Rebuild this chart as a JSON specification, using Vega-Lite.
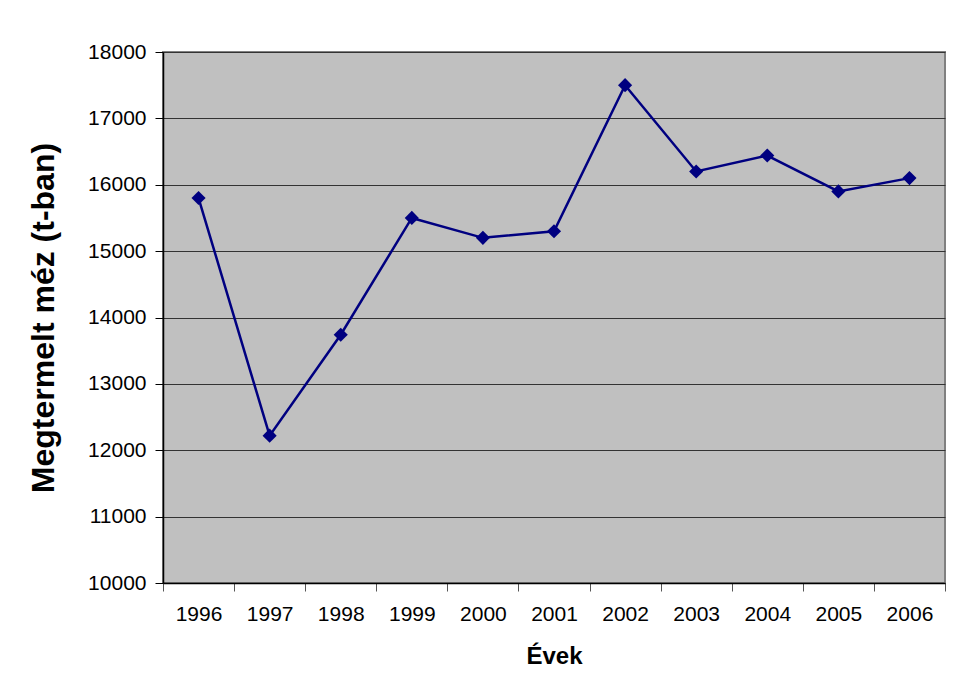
{
  "$schema": "https://vega.github.io/schema/vega-lite/v6.json",
  "autosize": {"type": "none"},
  "padding": {"left": 163, "top": 52, "right": 10, "bottom": 115},
  "width": 782,
  "height": 531,
  "background": "white",
  "config": {
    "font": "Liberation Sans",
    "view": {"fill": "#C0C0C0", "stroke": "#808080", "strokeWidth": 2}
  },
  "data": {
    "values": [
      {"ev": "1996", "mez": 15800},
      {"ev": "1997", "mez": 12220},
      {"ev": "1998", "mez": 13740},
      {"ev": "1999", "mez": 15500},
      {"ev": "2000", "mez": 15200},
      {"ev": "2001", "mez": 15300},
      {"ev": "2002", "mez": 17500},
      {"ev": "2003", "mez": 16200},
      {"ev": "2004", "mez": 16440},
      {"ev": "2005", "mez": 15900},
      {"ev": "2006", "mez": 16100}
    ]
  },
  "encoding": {
    "x": {
      "field": "ev",
      "type": "ordinal",
      "scale": {"type": "band", "paddingInner": 0, "paddingOuter": 0},
      "axis": {
        "title": "Évek",
        "titleFont": "Liberation Sans",
        "titleFontSize": 24,
        "titleFontWeight": "bold",
        "titleColor": "black",
        "titlePadding": 20,
        "labelAngle": 0,
        "labelFontSize": 21,
        "labelColor": "black",
        "labelPadding": 12,
        "tickBand": "extent",
        "tickSize": 8,
        "tickColor": "#555555",
        "domainColor": "black",
        "domainWidth": 1.5,
        "grid": false
      }
    },
    "y": {
      "field": "mez",
      "type": "quantitative",
      "scale": {"domain": [10000, 18000], "nice": false, "zero": false},
      "axis": {
        "title": "Megtermelt méz (t-ban)",
        "titleFont": "Liberation Sans",
        "titleFontSize": 32,
        "titleFontWeight": "bold",
        "titleColor": "black",
        "titlePadding": 27,
        "values": [10000, 11000, 12000, 13000, 14000, 15000, 16000, 17000, 18000],
        "format": "d",
        "labelFontSize": 21,
        "labelColor": "black",
        "labelPadding": 9,
        "tickSize": 8,
        "tickColor": "black",
        "domainColor": "black",
        "domainWidth": 1.5,
        "grid": true,
        "gridColor": "#333333",
        "gridWidth": 1
      }
    }
  },
  "layer": [
    {"mark": {"type": "line", "color": "#000080", "strokeWidth": 2.5}},
    {"mark": {"type": "point", "shape": "diamond", "filled": true, "color": "#000080", "opacity": 1, "size": 200}}
  ]
}
